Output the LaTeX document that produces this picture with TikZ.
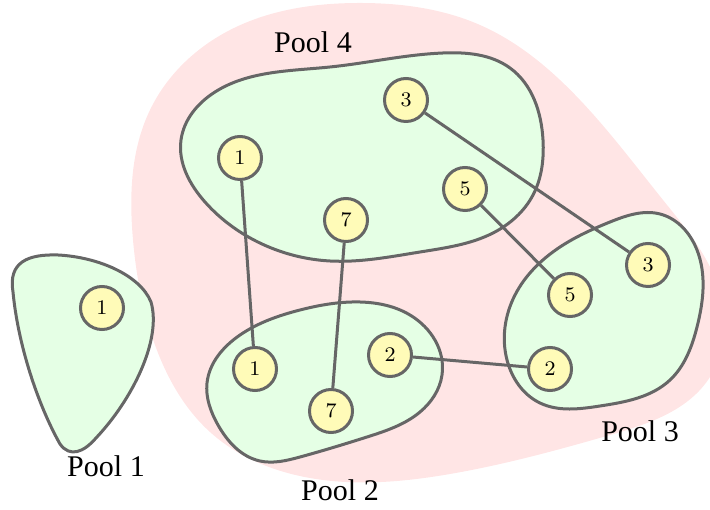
\documentclass[tikz,border=0pt]{standalone}
\usepackage{fontspec}
\usetikzlibrary{hobby}
\newfontfamily\labelfont{Liberation Serif}
\begin{document}
\begin{tikzpicture}[x=0.4pt,y=-0.4pt,
  pinkblob/.style={fill=red!10,draw=none},
  poolblob/.style={fill=green!10,draw=black!60,line width=1.2pt},
  item/.style={circle,draw=black!60,fill=yellow!28,line width=1.2pt,minimum size=17.2pt,inner sep=0pt,font=\fontsize{8.3}{10}\selectfont},
  link/.style={draw=black!60,line width=1.2pt},
  poollabel/.style={font=\labelfont\fontsize{12}{14}\selectfont}]
\useasboundingbox (0,0) rectangle (710,510);
% outer pink region
\path[pinkblob,use Hobby shortcut,closed=true]
 (133,240) .. (150,110) .. (230,30) .. (360,3) .. (480,25) .. (580,100) .. (663,200)
 .. (722,300) .. (708,380) .. (610,435) .. (450,474) .. (310,478) .. (210,432) .. (155,345);
% pools
\path[poolblob,use Hobby shortcut,closed=true]
 (181,140) .. (215,92) .. (330,67) .. (443,53) .. (510,68) .. (543,140) .. (533,195)
 .. (493,233) .. (420,252) .. (330,261) .. (262,244) .. (205,202);
\path[poolblob] (13,292) .. controls (8,262) and (28,254) .. (58,255)
 .. controls (98,257) and (140,275) .. (151,302)
 .. controls (162,340) and (132,400) .. (96,438)
 .. controls (84,452) and (70,458) .. (60,444)
 .. controls (38,405) and (18,345) .. cycle;
\path[poolblob,use Hobby shortcut,closed=true]
 (207,383) .. (240,335) .. (300,310) .. (360,302) .. (410,315) .. (442,375)
 .. (420,412) .. (367,437) .. (300,457) .. (260,461) .. (218,425);
\path[poolblob,use Hobby shortcut,closed=true]
 (660,214) .. (697,250) .. (697,327) .. (670,380) .. (600,406) .. (540,403)
 .. (507,360) .. (515,295) .. (560,247) .. (610,222);
% items
\node[item] (p1a) at (102,308) {1};
\node[item] (p4c) at (406,100) {3};
\node[item] (p4a) at (240,158) {1};
\node[item] (p4g) at (346,220) {7};
\node[item] (p4e) at (465,189) {5};
\node[item] (p2a) at (255,369) {1};
\node[item] (p2g) at (331,411) {7};
\node[item] (p2b) at (390,355) {2};
\node[item] (p3c) at (648,265) {3};
\node[item] (p3e) at (570,295) {5};
\node[item] (p3b) at (550,369) {2};
% links
\draw[link] (p4c) -- (p3c);
\draw[link] (p4e) -- (p3e);
\draw[link] (p4a) -- (p2a);
\draw[link] (p4g) -- (p2g);
\draw[link] (p2b) -- (p3b);
% labels
\node[poollabel] (l4) at (313,42) {Pool 4};
\node[poollabel] (l1) at (106,466) {Pool 1};
\node[poollabel] (l2) at (340,490) {Pool 2};
\node[poollabel] (l3) at (640,431) {Pool 3};
\end{tikzpicture}
\end{document}
